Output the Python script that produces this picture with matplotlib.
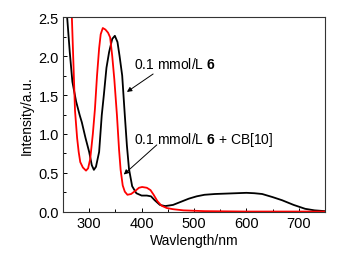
import matplotlib
matplotlib.use("Agg")
import matplotlib.pyplot as plt
from matplotlib.ticker import MultipleLocator

plt.rcParams['font.family'] = ['Liberation Sans', 'DejaVu Sans']
plt.rcParams['mathtext.fontset'] = 'custom'
plt.rcParams['mathtext.rm'] = 'Liberation Sans'
plt.rcParams['mathtext.bf'] = 'Liberation Sans:bold'

wl_black = [250, 258, 263, 268, 275, 282, 286, 293, 300, 305, 309, 313, 319, 324, 328, 333, 338, 344, 349,
            354, 358, 363, 368, 372, 376, 382, 390, 400, 410, 418, 425, 435, 445, 460, 475, 490, 505, 520,
            540, 560, 580, 600, 615, 630, 650, 668, 690, 712, 730, 750]
int_black = [3.2, 2.5, 2.05, 1.67, 1.42, 1.24, 1.15, 0.95, 0.77, 0.6, 0.54, 0.58, 0.77, 1.24, 1.5, 1.85, 2.05, 2.22, 2.26,
             2.18, 2.0, 1.75, 1.24, 0.85, 0.55, 0.33, 0.24, 0.21, 0.21, 0.2, 0.15, 0.09, 0.075, 0.09, 0.13, 0.17, 0.2, 0.22,
             0.23, 0.235, 0.24, 0.245, 0.24, 0.23, 0.19, 0.15, 0.09, 0.04, 0.02, 0.01]

wl_red = [250, 262, 267, 270, 273, 277, 280, 283, 288, 294, 298, 302, 307, 311, 315, 319, 322, 326, 331, 336, 340,
          344, 348, 353, 357, 360, 364, 368, 373, 380, 388, 395, 401, 410, 417, 423, 430, 438, 448, 460, 480, 520,
          600, 750]
int_red = [3.5, 2.9, 2.5, 1.9, 1.3, 0.95, 0.77, 0.64, 0.57, 0.53, 0.56, 0.68, 1.0, 1.32, 1.75, 2.1, 2.28, 2.36, 2.34, 2.3, 2.24,
           2.0, 1.7, 1.24, 0.8, 0.54, 0.34, 0.26, 0.22, 0.23, 0.27, 0.31, 0.32, 0.31, 0.28, 0.22, 0.14, 0.08, 0.05, 0.035, 0.02, 0.01,
           0.005, 0.005]

label_black = r"0.1 mmol/L $\mathbf{6}$"
label_red = r"0.1 mmol/L $\mathbf{6}$ + CB[10]"

fig = plt.figure(figsize=(3.44, 2.55), dpi=100)
ax = fig.add_axes([0.183, 0.165, 0.762, 0.764])
ax.plot(wl_black, int_black, color='black', lw=1.3)
ax.plot(wl_red, int_red, color='#ff0000', lw=1.3)

ax.set_xlim(250, 750)
ax.set_ylim(0, 2.5)
ax.xaxis.set_major_locator(MultipleLocator(100))
ax.xaxis.set_minor_locator(MultipleLocator(50))
ax.yaxis.set_major_locator(MultipleLocator(0.5))
ax.yaxis.set_minor_locator(MultipleLocator(0.25))
ax.yaxis.set_major_formatter(matplotlib.ticker.FormatStrFormatter('%.1f'))
ax.tick_params(which='both', direction='in', labelsize=10.5, pad=3)
ax.tick_params(which='major', length=3, width=0.7)
ax.tick_params(which='minor', length=2, width=0.7)
for s in ax.spines.values():
    s.set_linewidth(0.8)
    s.set_color('#333333')

ax.set_xlabel('Wavlength/nm', fontsize=10, labelpad=2)
ax.set_ylabel('Intensity/a.u.', fontsize=10, labelpad=3)

arrow = dict(arrowstyle='-|>', color='black', lw=0.7, mutation_scale=7, shrinkA=0, shrinkB=0)
ax.text(385, 1.91, label_black, fontsize=10, va='center', ha='left')
ax.annotate("", xy=(372, 1.54), xytext=(422, 1.77), arrowprops=arrow)
ax.text(385, 0.94, label_red, fontsize=10, va='center', ha='left')
ax.annotate("", xy=(366, 0.48), xytext=(429, 0.86), arrowprops=arrow)

fig.savefig('out.png', dpi=100)
